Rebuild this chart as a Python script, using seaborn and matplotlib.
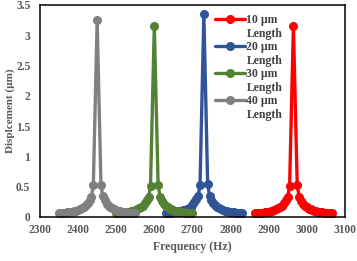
"""
Frequency response (displacement vs. frequency) of four beam lengths.
"""
import pandas as pd
import matplotlib.pyplot as plt
import seaborn as sns
from matplotlib.lines import Line2D

# --- data ------------------------------------------------------------------
freq_10 = [2865, 2870, 2875, 2880, 2885, 2890, 2895, 2900, 2905, 2910, 2915, 2920, 2925,
           2930, 2935, 2940, 2945, 2950, 2955, 2965, 2975, 2980, 2985, 2990, 2995, 3000,
           3005, 3010, 3015, 3020, 3025, 3030, 3035, 3040, 3045, 3050, 3055, 3060, 3065]
disp_10 = [0.058, 0.061, 0.064, 0.068, 0.071, 0.076, 0.081, 0.087, 0.094, 0.102, 0.112,
           0.124, 0.14, 0.16, 0.188, 0.228, 0.275, 0.33, 0.51, 3.15, 0.52, 0.335, 0.27,
           0.215, 0.182, 0.158, 0.138, 0.123, 0.11, 0.1, 0.092, 0.085, 0.079, 0.074, 0.07,
           0.066, 0.063, 0.06, 0.057]

freq_20 = [2630, 2635, 2640, 2645, 2650, 2655, 2660, 2665, 2670, 2675, 2680, 2685, 2690,
           2695, 2700, 2705, 2710, 2715, 2720, 2730, 2740, 2745, 2750, 2755, 2760, 2765,
           2770, 2775, 2780, 2785, 2790, 2795, 2800, 2805, 2810, 2815, 2820, 2825, 2830]
disp_20 = [0.062, 0.065, 0.068, 0.072, 0.075, 0.08, 0.085, 0.092, 0.099, 0.107, 0.118,
           0.13, 0.147, 0.168, 0.197, 0.238, 0.29, 0.345, 0.53, 3.35, 0.54, 0.35, 0.28,
           0.225, 0.19, 0.165, 0.145, 0.129, 0.116, 0.105, 0.097, 0.089, 0.083, 0.078,
           0.073, 0.069, 0.066, 0.063, 0.06]

freq_30 = [2500, 2505, 2510, 2515, 2520, 2525, 2530, 2535, 2540, 2545, 2550, 2555, 2560,
           2565, 2570, 2575, 2580, 2585, 2590, 2600, 2610, 2615, 2620, 2625, 2630, 2635,
           2640, 2645, 2650, 2655, 2660, 2665, 2670, 2675, 2680, 2685, 2690, 2695, 2700]
disp_30 = [0.058, 0.061, 0.064, 0.068, 0.071, 0.076, 0.081, 0.087, 0.094, 0.102, 0.112,
           0.124, 0.14, 0.16, 0.188, 0.228, 0.275, 0.33, 0.51, 3.15, 0.52, 0.335, 0.27,
           0.215, 0.182, 0.158, 0.138, 0.123, 0.11, 0.1, 0.092, 0.085, 0.079, 0.074, 0.07,
           0.066, 0.063, 0.06, 0.057]

freq_40 = [2350, 2355, 2360, 2365, 2370, 2375, 2380, 2385, 2390, 2395, 2400, 2405, 2410,
           2415, 2420, 2425, 2430, 2435, 2440, 2450, 2460, 2465, 2470, 2475, 2480, 2485,
           2490, 2495, 2500, 2505, 2510, 2515, 2520, 2525, 2530, 2535, 2540, 2545, 2550]
disp_40 = [0.06, 0.063, 0.066, 0.07, 0.073, 0.078, 0.083, 0.089, 0.096, 0.104, 0.114,
           0.126, 0.142, 0.162, 0.19, 0.23, 0.28, 0.335, 0.52, 3.25, 0.53, 0.34, 0.275,
           0.22, 0.185, 0.16, 0.14, 0.125, 0.112, 0.102, 0.094, 0.087, 0.081, 0.076,
           0.072, 0.068, 0.065, 0.062, 0.059]

series = ["10 µm", "20 µm", "30 µm", "40 µm"]
colors = ["#ff0000", "#2f5597", "#548235", "#808080"]

frames = []
for name, f, d in zip(series, [freq_10, freq_20, freq_30, freq_40],
                      [disp_10, disp_20, disp_30, disp_40]):
    frames.append(pd.DataFrame({"freq": f, "disp": d, "len": name}))
df = pd.concat(frames, ignore_index=True)

# --- plot -------------------------------------------------------------------
sns.set_style("white")
plt.rcParams["font.family"] = ["Liberation Serif", "DejaVu Serif"]
plt.rcParams["font.weight"] = "bold"

fig = plt.figure(figsize=(3.57, 2.61), dpi=100)
ax = fig.add_axes([0.112, 0.169, 0.854, 0.812])

sns.lineplot(data=df, x="freq", y="disp", hue="len", palette=colors,
             hue_order=series, marker="o", markersize=6.5, markeredgewidth=0,
             linewidth=2.4, ax=ax, legend=False, sort=True)

ax.set_xlim(2300, 3100)
ax.set_ylim(0, 3.5)
ax.set_xticks(range(2300, 3101, 100))
ax.set_yticks([0, 0.5, 1, 1.5, 2, 2.5, 3, 3.5])
ax.set_yticklabels(["0", "0.5", "1", "1.5", "2", "2.5", "3", "3.5"])
ax.tick_params(length=0, labelsize=8.3, labelcolor="#595959", pad=5)
ax.tick_params(axis="y", pad=7)
for lab in ax.get_xticklabels() + ax.get_yticklabels():
    lab.set_fontweight("bold")

ax.set_xlabel("Frequency (Hz)", fontsize=8.5, fontweight="bold", color="#595959", labelpad=4)
ax.set_ylabel("Displcement (µm)", fontsize=8, fontweight="bold", color="#595959", labelpad=1)

for sp in ax.spines.values():
    sp.set_color("black")
    sp.set_linewidth(1.1)

# legend: handle next to first line, "Length" on its own row
handles, labels = [], []
blank = Line2D([], [], linestyle="none")
for name, c in zip(series, colors):
    handles.append(Line2D([], [], color=c, marker="o", markersize=5.5, linewidth=2.4))
    labels.append(name)
    handles.append(blank)
    labels.append("Length")
ax.legend(handles, labels, loc="upper left", bbox_to_anchor=(0.555, 0.985),
          frameon=False, labelspacing=0.13, handlelength=2.5, handleheight=0.6,
          handletextpad=0.15, borderpad=0, labelcolor="#404040",
          prop={"weight": "bold", "size": 8.5})

fig.savefig("out.png", dpi=100)
